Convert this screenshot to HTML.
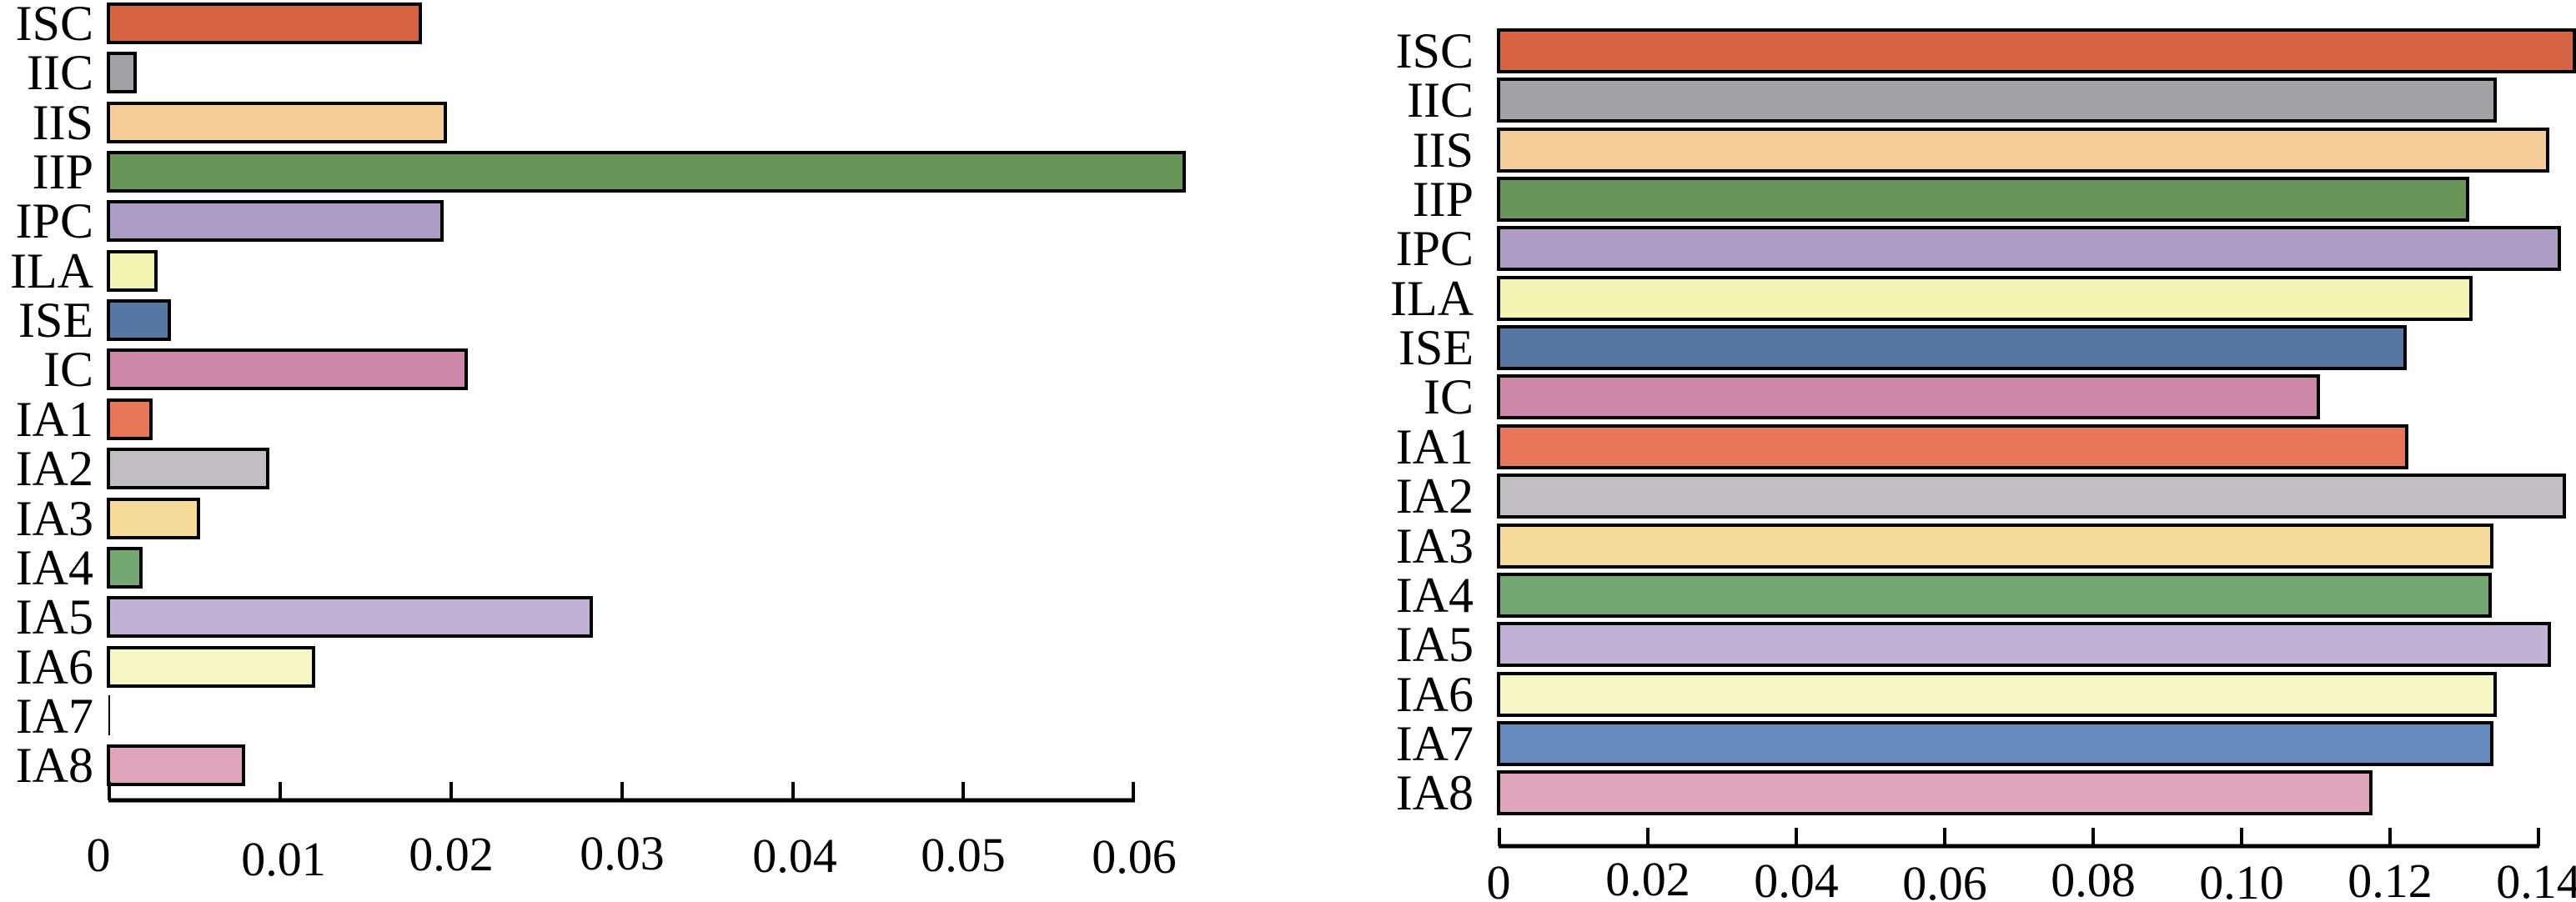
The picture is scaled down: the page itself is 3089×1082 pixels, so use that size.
<!DOCTYPE html>
<html><head><meta charset="utf-8"><style>
html,body{margin:0;padding:0;background:#fff;}
svg{display:block;}
text{font-family:"Liberation Serif",serif;fill:#000;}
</style></head><body>
<svg width="3089" height="1082" viewBox="0 0 3089 1082" xmlns="http://www.w3.org/2000/svg">
<g stroke="#000" stroke-width="4">
<!-- left chart bars: centers 28 + i*59.35 -->
<rect x="130" y="5" width="374" height="46" fill="#d66342"/>
<rect x="130" y="64" width="32" height="46" fill="#a2a1a6"/>
<rect x="130" y="124" width="404" height="46" fill="#f4cd98"/>
<rect x="130" y="183" width="1290" height="46" fill="#6a9559"/>
<rect x="130" y="242" width="400" height="46" fill="#ad9cc4"/>
<rect x="130" y="302" width="57" height="46" fill="#f2f5b1"/>
<rect x="130" y="361" width="73" height="46" fill="#5677a4"/>
<rect x="130" y="420" width="429" height="46" fill="#cd88a8"/>
<rect x="130" y="480" width="51" height="46" fill="#e8775a"/>
<rect x="130" y="539" width="191" height="46" fill="#c1bdc2"/>
<rect x="130" y="599" width="108" height="46" fill="#f5da9a"/>
<rect x="130" y="658" width="39" height="46" fill="#74a873"/>
<rect x="130" y="717" width="579" height="46" fill="#c1b1d4"/>
<rect x="130" y="777" width="246" height="46" fill="#f5f6c4"/>
<line x1="131" y1="834" x2="131" y2="882" stroke-width="2"/>
<rect x="130" y="895" width="162" height="46" fill="#dea5bd"/>
<!-- left axis -->
<line x1="130" y1="960" x2="1361" y2="960" stroke-width="5"/>
<line x1="131" y1="938" x2="131" y2="960"/>
<line x1="336" y1="938" x2="336" y2="960"/>
<line x1="541" y1="938" x2="541" y2="960"/>
<line x1="746" y1="938" x2="746" y2="960"/>
<line x1="951" y1="938" x2="951" y2="960"/>
<line x1="1155" y1="938" x2="1155" y2="960"/>
<line x1="1359" y1="938" x2="1359" y2="960"/>

<!-- right chart bars: centers 61 + i*59.35 -->
<rect x="1797" y="36" width="1290" height="50" fill="#d66342"/>
<rect x="1797" y="95" width="1195" height="50" fill="#a2a1a6"/>
<rect x="1797" y="155" width="1258" height="50" fill="#f4cd98"/>
<rect x="1797" y="214" width="1162" height="50" fill="#6a9559"/>
<rect x="1797" y="273" width="1272" height="50" fill="#ad9cc4"/>
<rect x="1797" y="333" width="1166" height="50" fill="#f2f5b1"/>
<rect x="1797" y="392" width="1087" height="50" fill="#5677a4"/>
<rect x="1797" y="451" width="983" height="50" fill="#cd88a8"/>
<rect x="1797" y="511" width="1089" height="50" fill="#e8775a"/>
<rect x="1797" y="570" width="1278" height="50" fill="#c1bdc2"/>
<rect x="1797" y="630" width="1191" height="50" fill="#f5da9a"/>
<rect x="1797" y="689" width="1189" height="50" fill="#74a873"/>
<rect x="1797" y="748" width="1260" height="50" fill="#c1b1d4"/>
<rect x="1797" y="808" width="1195" height="50" fill="#f5f6c4"/>
<rect x="1797" y="867" width="1191" height="50" fill="#678cbf"/>
<rect x="1797" y="926" width="1046" height="50" fill="#dea5bd"/>
<!-- right axis -->
<line x1="1797" y1="1015" x2="3045" y2="1015" stroke-width="5"/>
<line x1="1798" y1="993" x2="1798" y2="1015"/>
<line x1="1976" y1="993" x2="1976" y2="1015"/>
<line x1="2154" y1="993" x2="2154" y2="1015"/>
<line x1="2332" y1="993" x2="2332" y2="1015"/>
<line x1="2510" y1="993" x2="2510" y2="1015"/>
<line x1="2688" y1="993" x2="2688" y2="1015"/>
<line x1="2866" y1="993" x2="2866" y2="1015"/>
<line x1="3044" y1="993" x2="3044" y2="1015"/>
</g>
<g font-size="60" text-anchor="end">
<text x="112" y="48">ISC</text>
<text x="112" y="107">IIC</text>
<text x="112" y="167">IIS</text>
<text x="112" y="226">IIP</text>
<text x="112" y="285">IPC</text>
<text x="112" y="345">ILA</text>
<text x="112" y="404">ISE</text>
<text x="112" y="463">IC</text>
<text x="112" y="523">IA1</text>
<text x="112" y="582">IA2</text>
<text x="112" y="642">IA3</text>
<text x="112" y="701">IA4</text>
<text x="112" y="760">IA5</text>
<text x="112" y="820">IA6</text>
<text x="112" y="879">IA7</text>
<text x="112" y="938">IA8</text>

<text x="1767" y="81">ISC</text>
<text x="1767" y="140">IIC</text>
<text x="1767" y="200">IIS</text>
<text x="1767" y="259">IIP</text>
<text x="1767" y="318">IPC</text>
<text x="1767" y="378">ILA</text>
<text x="1767" y="437">ISE</text>
<text x="1767" y="496">IC</text>
<text x="1767" y="556">IA1</text>
<text x="1767" y="615">IA2</text>
<text x="1767" y="675">IA3</text>
<text x="1767" y="734">IA4</text>
<text x="1767" y="793">IA5</text>
<text x="1767" y="853">IA6</text>
<text x="1767" y="912">IA7</text>
<text x="1767" y="971">IA8</text>
</g>
<g font-size="58" text-anchor="middle">
<text x="118" y="1045">0</text>
<text x="340" y="1050">0.01</text>
<text x="541" y="1044">0.02</text>
<text x="746" y="1043">0.03</text>
<text x="953" y="1046">0.04</text>
<text x="1155" y="1045">0.05</text>
<text x="1360" y="1047">0.06</text>

<text x="1797" y="1078">0</text>
<text x="1976" y="1074">0.02</text>
<text x="2154" y="1076">0.04</text>
<text x="2332" y="1079">0.06</text>
<text x="2510" y="1075">0.08</text>
<text x="2688" y="1078">0.10</text>
<text x="2866" y="1076">0.12</text>
<text x="3044" y="1077">0.14</text>
</g>
</svg>
</body></html>
